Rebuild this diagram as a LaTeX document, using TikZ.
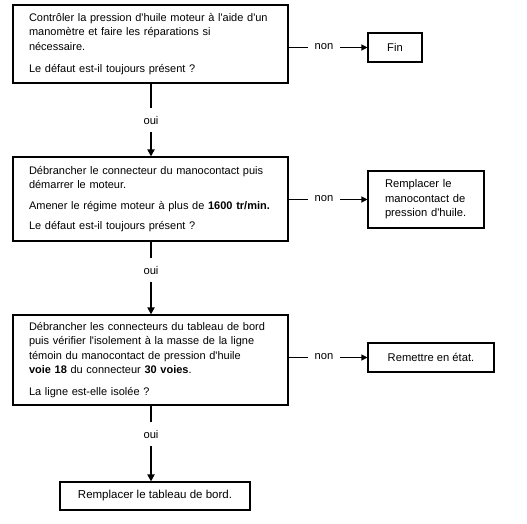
\documentclass[tikz,border=0pt]{standalone}
\usepackage{fontspec}
\setmainfont{Liberation Sans}[Ligatures=TeXOff]
\usetikzlibrary{arrows.meta}
\begin{document}
\begin{tikzpicture}[x=1pt,y=-1pt,
  txt/.style={font=\fontsize{11.2}{14.5}\selectfont},
  maintxt/.style={font=\fontsize{11}{14.5}\selectfont},
  box/.style={draw, line width=1.1pt, txt, inner sep=0pt},
  mainbox/.style={box, maintxt, inner xsep=16pt, text width=243pt, align=left},
  endbox/.style={box, align=center},
  lbl/.style={txt, inner xsep=6.5pt, inner ysep=0pt},
  ouilbl/.style={txt, inner xsep=2pt, minimum height=24pt, inner ysep=0pt},
  hline/.style={line width=1.1pt},
  harrow/.style={line width=1.1pt, -{Triangle[length=6pt,width=6pt]}},
  varrow/.style={line width=1.8pt, -{Triangle[length=7pt,width=7pt]}},
  vline/.style={line width=1.2pt}
]
\useasboundingbox (0,0) rectangle (527,524);

% main boxes
\node[mainbox, minimum height=78pt] (b1) at (150.5,44) {\mbox{Contrôler la pression d'huile moteur à l'aide d'un}\\
\mbox{manomètre et faire les réparations si}\\
\mbox{nécessaire.}\\[7.5pt]
\mbox{Le défaut est-il toujours présent ?}};

\node[mainbox, minimum height=84pt] (b2) at (150.5,199) {\mbox{Débrancher le connecteur du manocontact puis}\\
\mbox{démarrer le moteur.}\\[6pt]
\mbox{Amener le régime moteur à plus de \textbf{1600 tr/min.}}\\[6pt]
\mbox{Le défaut est-il toujours présent ?}};

\node[mainbox, minimum height=90pt] (b3) at (150.5,360) {\mbox{Débrancher les connecteurs du tableau de bord}\\
\mbox{puis vérifier l'isolement à la masse de la ligne}\\
\mbox{témoin du manocontact de pression d'huile}\\
\mbox{\textbf{voie 18} du connecteur \textbf{30 voies}.}\\[7pt]
\mbox{La ligne est-elle isolée ?}};

% end boxes
\node[endbox, minimum width=54pt, minimum height=29pt] (fin) at (395,47.5) {Fin};
\node[box, inner xsep=17pt, text width=82pt, align=left, minimum height=57pt] (r1) at (426,199.5) {\mbox{Remplacer le}\\ \mbox{manocontact de}\\ \mbox{pression d'huile.}};
\node[endbox, minimum width=126pt, minimum height=29pt] (r2) at (431,357.5) {Remettre en état.};
\node[endbox, font=\fontsize{11.5}{14}\selectfont, minimum width=190pt, minimum height=28pt] (r3) at (155,496) {Remplacer le tableau de bord.};

% labels
\node[lbl] (n1) at (324,47.5) {\raisebox{2pt}{non}};
\node[lbl] (n2) at (324,199.5) {\raisebox{2pt}{non}};
\node[lbl] (n3) at (324,357.5) {\raisebox{2pt}{non}};
\node[ouilbl] (o1) at (151,120) {oui};
\node[ouilbl] (o2) at (151,270) {oui};
\node[ouilbl] (o3) at (151,434) {oui};

% connectors
\draw[hline] (b1.east |- fin.west) -- (n1);
\draw[harrow] (n1) -- (fin);
\draw[hline] (b2.east |- r1.west) -- (n2);
\draw[harrow] (n2) -- (r1);
\draw[hline] (b3.east |- r2.west) -- (n3);
\draw[harrow] (n3) -- (r2);

\draw[vline] (b1.south -| o1) -- (o1);
\draw[varrow] (o1) -- (o1 |- b2.north);
\draw[vline] (b2.south -| o2) -- (o2);
\draw[varrow] (o2) -- (o2 |- b3.north);
\draw[vline] (b3.south -| o3) -- (o3);
\draw[varrow] (o3) -- (o3 |- r3.north);
\end{tikzpicture}
\end{document}
